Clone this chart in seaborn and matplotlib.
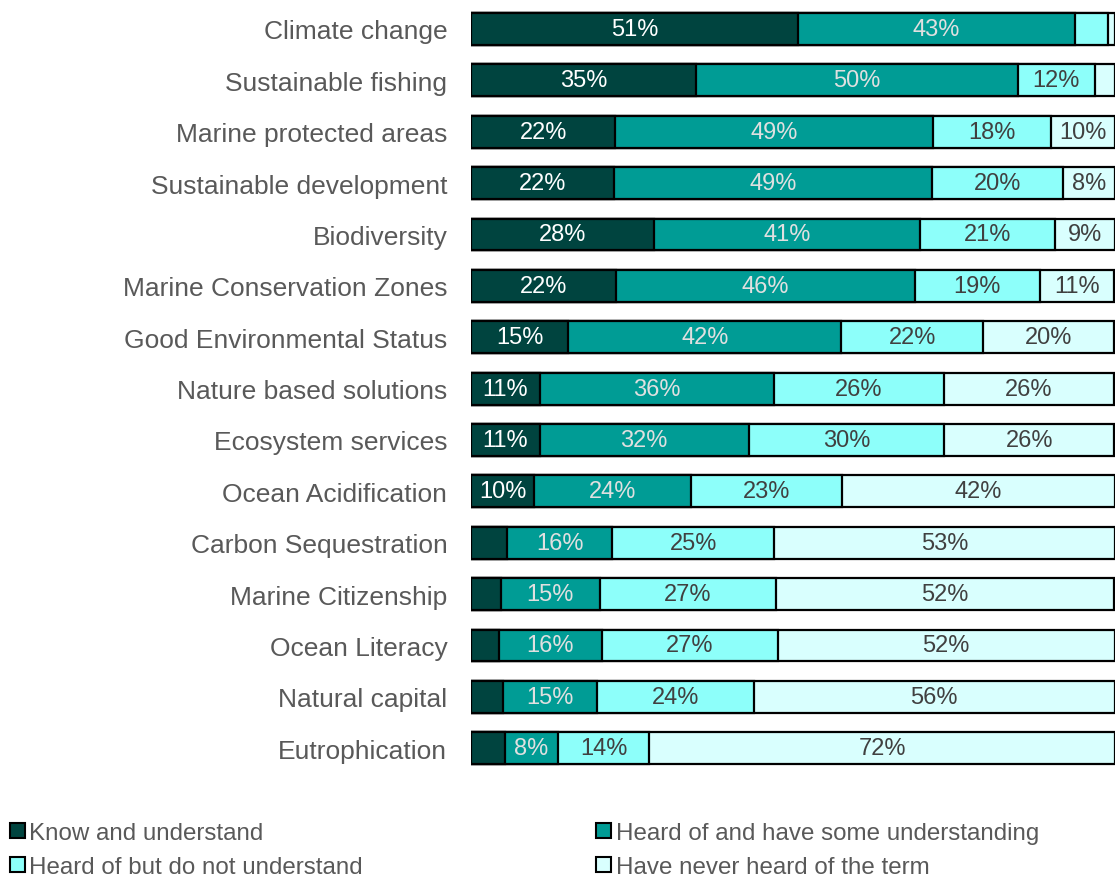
import pandas as pd
import numpy as np
import matplotlib.pyplot as plt
import seaborn as sns
from matplotlib.patches import Patch

terms = ['Climate change', 'Sustainable fishing', 'Marine protected areas',
         'Sustainable development', 'Biodiversity', 'Marine Conservation Zones',
         'Good Environmental Status', 'Nature based solutions', 'Ecosystem services',
         'Ocean Acidification', 'Carbon Sequestration', 'Marine Citizenship',
         'Ocean Literacy', 'Natural capital', 'Eutrophication']

know = [50.8, 34.9, 22.4, 22.2, 28.4, 22.45, 15.1, 10.7, 10.7, 9.8, 5.6, 4.6, 4.3, 4.9, 5.3]
some = [43.0, 50.0, 49.4, 49.4, 41.3, 46.45, 42.4, 36.4, 32.4, 24.4, 16.3, 15.4, 16.0, 14.6, 8.2]
heard = [5.1, 12.0, 18.2, 20.4, 21.0, 19.45, 22.0, 26.3, 30.4, 23.4, 25.2, 27.4, 27.3, 24.4, 14.2]
never = [1.1, 3.1, 10.0, 8.0, 9.3, 11.45, 20.4, 26.4, 26.4, 42.4, 52.9, 52.4, 52.4, 56.1, 72.3]

series = ['Know and understand', 'Heard of and have some understanding',
          'Heard of but do not understand', 'Have never heard of the term']
colors = ['#00443F', '#009C95', '#8DFFFA', '#D9FFFE']
txt_colors = ['white', '#E0E0E0', '#404040', '#404040']

df = pd.DataFrame({'term': terms, series[0]: know, series[1]: some,
                   series[2]: heard, series[3]: never})
cum = df[series].cumsum(axis=1)

plt.rcParams['font.family'] = ['Liberation Sans', 'DejaVu Sans']

fig = plt.figure(figsize=(11.15, 8.79), dpi=100)
ax = fig.add_axes([0.4224, 0.1184, 0.5776, 0.8768])

# stacked bars: draw cumulative totals from the back to the front
for s, c in reversed(list(zip(series, colors))):
    sns.barplot(x=cum[s], y=df['term'], color=c, orient='h', width=0.62,
                edgecolor='black', linewidth=1.6, saturation=1, ax=ax)

for i, row in df.iterrows():
    left = 0
    for s, tc in zip(series, txt_colors):
        v = row[s]
        if v >= 7:
            ax.text(left + v / 2, i, f'{v:.0f}%', ha='center', va='center',
                    color=tc, fontsize=17)
        left += v

ax.set_xlim(0, 100)
ax.set_xticks([])
ax.set_xlabel('')
ax.set_ylabel('')
ax.tick_params(axis='y', length=0, pad=17, labelsize=19, labelcolor='#595959')
sns.despine(ax=ax, left=True, bottom=True)

# legend filled row-wise like the original
order = [0, 2, 1, 3]
handles = [Patch(facecolor=colors[k], edgecolor='black', linewidth=1.5) for k in order]
labels = [series[k] for k in order]
fig.legend(handles, labels, loc='upper left', bbox_to_anchor=(0.009, 0.064),
           ncol=2, frameon=False, fontsize=17.4, handlelength=0.6, handleheight=0.6,
           handletextpad=0.2, columnspacing=9.65, labelspacing=0.5,
           borderpad=0, borderaxespad=0, labelcolor='#595959')

plt.savefig('out.png', dpi=100)
